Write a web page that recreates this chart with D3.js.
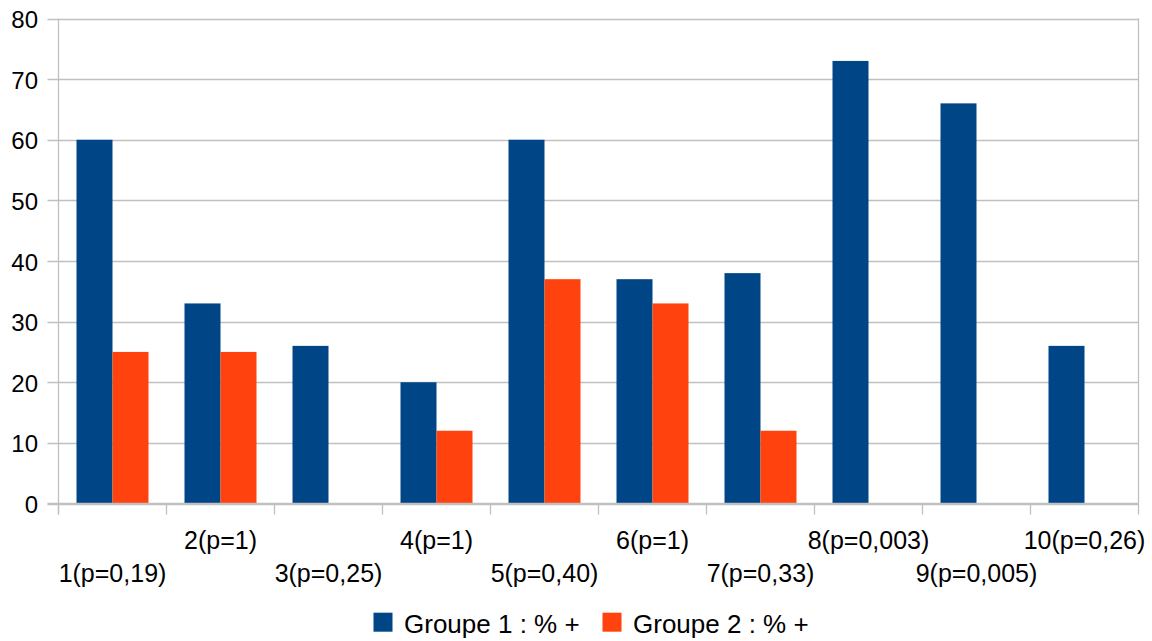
<!DOCTYPE html>
<html><head><meta charset="utf-8">
<script src="https://cdn.jsdelivr.net/npm/d3@7"></script>
<style>body{margin:0;background:#fff}svg{display:block}</style>
</head><body>
<svg id="c" width="1152" height="641"></svg>
<script>
const categories = ["1(p=0,19)","2(p=1)","3(p=0,25)","4(p=1)","5(p=0,40)","6(p=1)","7(p=0,33)","8(p=0,003)","9(p=0,005)","10(p=0,26)"];
const group1 = [60,33,26,20,60,37,38,73,66,26];
const group2 = [25,25,0,12,37,33,12,0,0,0];
const seriesNames = ["Groupe 1 : % +","Groupe 2 : % +"];
const colors = ["#004586","#ff420e"];
const yTicks = [0,10,20,30,40,50,60,70,80];

const svg = d3.select("#c");
const L = 58.5, R = 1138.5, T = 18.5, B = 503.5;
const font = "'Liberation Sans', Arial, sans-serif";
const x = d3.scaleBand().domain(categories).range([L, R]).paddingInner(0).paddingOuter(0);
const y = d3.scaleLinear().domain([0,80]).range([B, T]);
const bw = x.bandwidth();
const inner = d3.scaleBand().domain([0,1]).range([bw/6, bw*5/6]);

// gridlines
svg.append("g").selectAll("line").data(yTicks).join("line")
  .attr("x1", L-11).attr("x2", R).attr("y1", d=>Math.round(y(d))+0.5).attr("y2", d=>Math.round(y(d))+0.5)
  .attr("stroke", "#c0c0c0").attr("stroke-width", 1.3);
// left & right borders
svg.append("line").attr("x1",L).attr("x2",L).attr("y1",T).attr("y2",B+11).attr("stroke","#c0c0c0").attr("stroke-width",1.3);
svg.append("line").attr("x1",R).attr("x2",R).attr("y1",T).attr("y2",B).attr("stroke","#c0c0c0").attr("stroke-width",1.3);
// x ticks at band boundaries
const bounds = categories.map(c=>x(c)).concat([R]);
svg.append("g").selectAll("line").data(bounds).join("line")
  .attr("x1", d=>d).attr("x2", d=>d).attr("y1", B).attr("y2", B+11)
  .attr("stroke","#c0c0c0").attr("stroke-width",1.3);

// bars
const data = categories.map((c,i)=>({c, vals:[group1[i], group2[i]]}));
const g = svg.append("g");
data.forEach(d=>{
  d.vals.forEach((v,k)=>{
    if (v<=0) return;
    g.append("rect").attr("x", x(d.c)+inner(k)).attr("width", inner.bandwidth())
      .attr("y", y(v)).attr("height", y(0)-y(v)).attr("fill", colors[k]);
  });
});
// baseline on top
svg.append("line").attr("x1",L-11).attr("x2",R).attr("y1",B).attr("y2",B).attr("stroke","#c0c0c0").attr("stroke-width",1.3);

// y labels
svg.append("g").selectAll("text").data(yTicks).join("text")
  .attr("x", 38).attr("y", d=>y(d)+9.5).attr("text-anchor","end")
  .attr("font-family", font).attr("font-size", 24).attr("fill","#000").text(d=>d);

// x labels staggered
svg.append("g").selectAll("text").data(categories).join("text")
  .attr("x", d=>x(d)+bw/2).attr("y", (d,i)=> i%2===0 ? 581.5 : 549).attr("text-anchor","middle")
  .attr("font-family", font).attr("font-size", 25).attr("fill","#000").text(d=>d);

// legend
const leg = [{x:373.5, tx:404},{x:602.5, tx:633}];
leg.forEach((p,k)=>{
  svg.append("rect").attr("x",p.x).attr("y",612.7).attr("width",19).attr("height",19).attr("fill",colors[k]);
  svg.append("text").attr("x",p.tx).attr("y",633).attr("font-family",font).attr("font-size",26).attr("fill","#000").text(seriesNames[k]);
});
</script>
</body></html>
